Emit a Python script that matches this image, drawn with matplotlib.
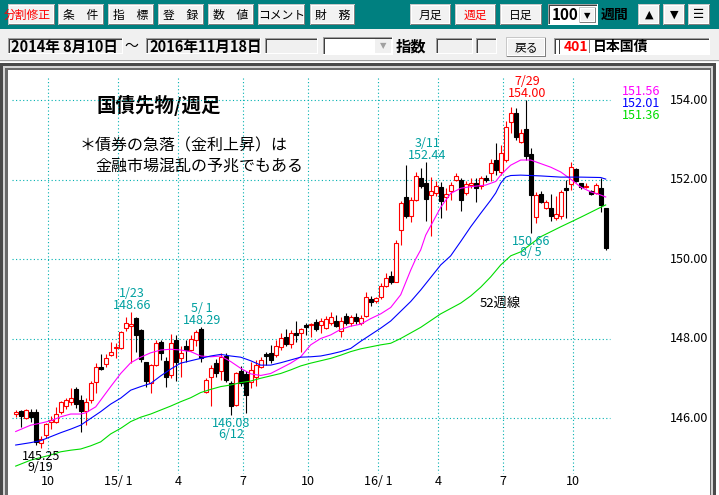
import numpy as np
import pandas as pd
import matplotlib
matplotlib.use('Agg')
import matplotlib.pyplot as plt
import matplotlib.patches as patch
from matplotlib.transforms import blended_transform_factory as blend, Bbox

plt.rcParams['font.family'] = ['Noto Sans CJK JP', 'DejaVu Sans']

# 国債先物 週足 (2014/8 - 2016/11)
opens = [146.10, 146.18, 146.01, 146.16, 146.15, 145.37, 145.56, 145.90, 145.91, 146.16,
         146.31, 146.39, 146.73, 146.45, 146.18, 146.45, 146.90, 147.29, 147.36, 147.58,
         147.75, 147.77, 148.26, 148.31, 148.51, 148.21, 147.40, 146.88, 147.33, 147.90,
         147.44, 147.08, 147.97, 147.52, 147.81, 147.71, 147.96, 148.24, 146.66, 147.02,
         147.38, 147.17, 147.55, 146.88, 146.33, 147.18, 147.11, 146.91, 147.02, 147.28,
         147.60, 147.63, 147.58, 147.78, 148.05, 147.87, 148.14, 148.13, 148.34, 148.33,
         148.42, 148.35, 148.26, 148.38, 148.45, 148.18, 148.57, 148.38, 148.55, 148.38,
         148.56, 149.00, 148.94, 149.04, 149.32, 149.57, 149.43, 150.74, 151.57, 151.08,
         151.48, 152.05, 151.90, 151.61, 151.65, 151.82, 151.55, 151.70, 152.00, 151.99,
         151.65, 151.86, 151.90, 151.84, 152.03, 152.17, 152.49, 152.20, 152.49, 153.45,
         153.67, 152.95, 153.27, 152.65, 151.05, 151.63, 151.29, 151.28, 151.02, 151.07,
         151.78, 151.88, 152.26, 151.91, 151.80, 151.71, 151.65, 151.78, 151.28]
highs = [146.21, 146.20, 146.23, 146.22, 146.23, 145.55, 145.88, 146.06, 146.28, 146.44,
         146.50, 146.75, 146.78, 146.58, 146.50, 146.93, 147.38, 147.60, 147.61, 147.92,
         147.89, 148.20, 148.55, 148.66, 148.55, 148.24, 147.42, 147.37, 147.96, 147.95,
         147.54, 148.11, 148.09, 147.80, 147.96, 148.09, 148.22, 148.29, 147.00, 147.33,
         147.48, 147.63, 147.64, 146.92, 147.16, 147.30, 147.17, 147.40, 147.45, 147.54,
         147.67, 147.84, 147.96, 148.13, 148.24, 148.21, 148.43, 148.26, 148.38, 148.40,
         148.50, 148.52, 148.57, 148.67, 148.58, 148.55, 148.64, 148.60, 148.65, 148.58,
         149.16, 149.08, 149.05, 149.40, 149.65, 149.70, 150.48, 151.45, 152.36, 151.57,
         152.20, 152.30, 152.44, 152.06, 151.97, 151.94, 151.78, 151.94, 152.17, 152.03,
         151.97, 152.03, 152.03, 152.09, 152.12, 152.51, 152.91, 152.86, 153.46, 153.83,
         153.79, 153.27, 154.00, 152.80, 151.68, 151.70, 151.49, 151.63, 151.59, 151.74,
         152.00, 152.45, 152.29, 151.92, 151.90, 151.74, 151.92, 152.03, 151.28]
lows = [146.03, 145.78, 145.97, 145.89, 145.32, 145.25, 145.50, 145.72, 145.87, 146.09,
        146.23, 146.33, 146.25, 145.66, 145.82, 146.37, 146.62, 147.22, 147.29, 147.55,
        147.52, 147.74, 148.20, 147.38, 147.67, 147.40, 146.79, 146.62, 147.31, 147.45,
        146.78, 147.00, 146.94, 147.04, 147.42, 147.68, 147.80, 147.42, 146.62, 146.29,
        147.04, 146.96, 146.90, 146.08, 146.30, 146.80, 146.12, 146.75, 146.80, 147.25,
        147.33, 147.38, 147.53, 147.70, 147.80, 147.76, 147.92, 147.65, 148.09, 148.05,
        148.18, 148.15, 148.24, 148.34, 148.28, 148.05, 148.34, 148.32, 148.36, 148.35,
        148.53, 148.82, 148.90, 149.00, 149.30, 149.37, 149.42, 150.35, 151.03, 150.92,
        151.46, 151.78, 150.95, 150.58, 151.59, 151.02, 151.23, 151.48, 151.95, 151.22,
        151.60, 151.78, 151.44, 151.76, 151.93, 151.97, 152.11, 152.12, 152.44, 153.16,
        153.00, 152.93, 152.50, 150.66, 150.90, 151.40, 151.27, 150.96, 150.98, 151.00,
        151.03, 151.74, 151.94, 151.77, 151.78, 151.60, 151.63, 151.18, 150.23]
closes = [146.16, 146.04, 146.19, 146.02, 145.40, 145.47, 145.85, 145.95, 146.09, 146.39,
          146.45, 146.50, 146.35, 146.18, 146.41, 146.87, 147.29, 147.23, 147.52, 147.65,
          147.77, 148.17, 148.38, 148.36, 148.09, 147.48, 146.92, 147.33, 147.88, 147.63,
          147.04, 147.88, 147.40, 147.63, 147.70, 148.00, 148.17, 147.50, 146.95, 147.25,
          147.13, 147.54, 146.95, 146.29, 147.14, 146.87, 146.58, 147.21, 147.33, 147.46,
          147.56, 147.46, 147.81, 148.02, 147.85, 148.13, 148.08, 148.23, 148.30, 148.37,
          148.25, 148.43, 148.48, 148.55, 148.32, 148.43, 148.38, 148.53, 148.45, 148.51,
          149.05, 148.92, 149.02, 149.32, 149.53, 149.43, 150.39, 151.41, 151.07, 151.48,
          152.09, 151.84, 151.50, 151.71, 151.84, 151.47, 151.63, 151.86, 152.09, 151.48,
          151.89, 151.92, 151.78, 152.03, 151.99, 152.42, 152.24, 152.66, 153.33, 153.67,
          153.08, 153.16, 152.58, 151.61, 151.62, 151.43, 151.44, 151.07, 151.12, 151.68,
          151.73, 152.32, 151.96, 151.82, 151.84, 151.63, 151.86, 151.36, 150.27]

# moving averages (bar index, value)
ma13_idx = [0, 3, 5, 7, 9, 11, 13, 14, 16, 17, 19, 21, 23, 25, 27, 29, 31, 33, 35, 37,
            39, 41, 43, 45, 47, 49, 51, 53, 55, 57, 59, 61, 63, 65, 67, 69, 71, 73, 75, 77,
            79, 80, 81, 82, 85, 87, 89, 91, 94, 96, 97, 98, 99, 101, 103, 105, 107, 109, 111,
            113, 115, 117, 118]
ma13 = [145.66, 145.82, 145.87, 145.93, 146.03, 146.10, 146.10, 146.13, 146.28, 146.45,
        146.79, 147.12, 147.39, 147.53, 147.64, 147.71, 147.73, 147.71, 147.67, 147.56,
        147.54, 147.56, 147.42, 147.25, 147.11, 147.07, 147.12, 147.25, 147.38, 147.54,
        147.84, 148.00, 148.09, 148.23, 148.31, 148.36, 148.50, 148.62, 148.78, 149.10,
        149.72, 150.00, 150.23, 150.60, 151.30, 151.65, 151.78, 151.82, 151.86, 151.95,
        152.11, 152.24, 152.36, 152.49, 152.49, 152.40, 152.31, 152.19, 152.01, 151.81,
        151.69, 151.61, 151.56]
ma26_idx = [0, 3, 5, 7, 9, 11, 13, 15, 17, 19, 21, 23, 25, 27, 29, 31, 33, 35, 37, 39,
            41, 43, 45, 47, 49, 51, 53, 55, 57, 59, 61, 63, 65, 67, 69, 73, 75, 79, 81, 85,
            87, 89, 91, 93, 95, 96, 97, 98, 99, 101, 105, 109, 113, 117, 118]
ma26 = [145.32, 145.38, 145.43, 145.53, 145.63, 145.72, 145.82, 145.99, 146.16, 146.35,
        146.50, 146.70, 146.79, 146.87, 147.06, 147.23, 147.38, 147.44, 147.50, 147.56,
        147.60, 147.56, 147.53, 147.44, 147.33, 147.33, 147.39, 147.46, 147.53, 147.54,
        147.56, 147.61, 147.67, 147.75, 147.93, 148.26, 148.44, 148.93, 149.22, 149.85,
        150.08, 150.44, 150.81, 151.15, 151.48, 151.66, 151.91, 152.06, 152.10, 152.11,
        152.09, 152.06, 152.06, 152.05, 152.01]
ma52_idx = [0, 3, 7, 9, 11, 13, 15, 17, 19, 21, 23, 25, 27, 29, 31, 33, 35, 37, 39, 41,
            43, 45, 47, 49, 51, 53, 55, 57, 59, 61, 63, 65, 67, 69, 73, 75, 77, 81, 85, 89,
            91, 93, 95, 97, 99, 101, 105, 109, 113, 117, 118]
ma52 = [144.79, 144.94, 145.07, 145.15, 145.19, 145.22, 145.30, 145.40, 145.60, 145.74,
        145.91, 146.02, 146.10, 146.20, 146.30, 146.41, 146.51, 146.64, 146.72, 146.79,
        146.83, 146.89, 146.93, 147.00, 147.06, 147.12, 147.21, 147.31, 147.38, 147.44,
        147.50, 147.58, 147.67, 147.74, 147.84, 147.88, 148.00, 148.28, 148.62, 148.89,
        149.07, 149.29, 149.55, 149.85, 150.08, 150.18, 150.56, 150.81, 151.05, 151.30,
        151.36]

price_ticks = [146, 148, 150, 152, 154]
hi_marks = [('2016-07-29', 'red'), ('2016-03-11', '#00a0a0'),
            ('2015-01-23', '#00a0a0'), ('2015-05-01', '#00a0a0')]
lo_marks = [('2016-08-05', '#00a0a0'), ('2015-06-12', '#00a0a0'), ('2014-09-19', 'black')]

weeks = list(pd.date_range('2014-08-15', periods=len(closes), freq='W-FRI'))
# new year weeks end on 12/30
weeks = [d - pd.Timedelta(days=d.day + 1) if (d.month == 1 and d.day <= 3) else d for d in weeks]

W, H = 719, 495
fig = plt.figure(figsize=(W / 100, H / 100), dpi=100)
ui = fig.add_axes([0, 0, 1, 1])
ui.set_xlim(0, W)
ui.set_ylim(H, 0)
ui.axis('off')


def box(x0, y0, x1, y1, fc, z=1):
    ui.add_patch(patch.Rectangle((x0, y0), x1 - x0, y1 - y0, facecolor=fc, edgecolor='none', zorder=z))


def button(x0, y0, x1, y1, text='', color='black', size=8.5, weight='normal', family=None):
    box(x0, y0, x1, y1, '#c8c8c8')
    box(x0 + 1, y0 + 1, x1, y1, '#808080')
    box(x0 + 1, y0 + 1, x1 - 1, y1 - 1, 'white')
    box(x0 + 2, y0 + 2, x1 - 2, y1 - 2, '#f2f2f2')
    if text:
        kw = {} if family is None else {'family': family}
        ui.text((x0 + x1) / 2, (y0 + y1) / 2 + 0.5, text, ha='center', va='center',
                fontsize=size, color=color, weight=weight, zorder=5, **kw)


def field(x0, y0, x1, y1, fc='#f0f0f0'):
    box(x0, y0, x1, y1, 'white')
    box(x0, y0, x1 - 1, y1 - 1, '#a0a0a0')
    box(x0 + 1, y0 + 1, x1 - 1, y1 - 1, '#404040')
    box(x0 + 2, y0 + 2, x1 - 1, y1 - 1, fc)


# toolbar
box(0, 0, W, 29, '#008080')
box(0, 29, W, 62, '#f0f0f0')
box(0, 60, W, 61, '#a0a0a0')
button(8, 4, 55, 25)
t = ui.text(51, 15, '分割修正', ha='right', va='center', fontsize=8.5, color='red', zorder=5)
t.set_clip_box(Bbox(ui.transData.transform([[10, 25], [53, 4]])))
for x0, x1, s in [(58, 104, '条　件'), (108, 154, '指　標'), (158, 204, '登　録'),
                  (208, 254, '数　値'), (258, 305, 'コメント'), (310, 355, '財　務'),
                  (410, 451, '月足'), (500, 542, '日足')]:
    button(x0, 4, x1, 25, s)
button(455, 4, 496, 25, '週足', color='red')
field(548, 4, 598, 25, fc='white')
ui.text(552, 15, '100', ha='left', va='center', fontsize=11, weight='bold', zorder=5)
button(579, 7, 596, 23, '▼', size=6, family='DejaVu Sans')
ui.text(601, 15, '週間', ha='left', va='center', fontsize=10, weight='bold', zorder=5)
button(638, 4, 660, 25, '▲', size=8, family='DejaVu Sans')
button(663, 4, 685, 25, '▼', size=8, family='DejaVu Sans')
button(688, 4, 710, 25, '☰', size=9, family='DejaVu Sans')

field(8, 38, 123, 54)
ui.text(11, 46.5, '2014年 8月10日', ha='left', va='center', fontsize=10.5, weight='bold', zorder=5)
ui.text(131, 46, '～', ha='center', va='center', fontsize=10, zorder=5)
field(146, 38, 261, 54)
ui.text(149, 46.5, '2016年11月18日', ha='left', va='center', fontsize=10.5, weight='bold', zorder=5)
field(265, 38, 318, 54)
field(323, 37, 393, 55, fc='white')
box(375, 39, 391, 53, '#f0f0f0')
ui.text(383, 46, '▼', ha='center', va='center', fontsize=6, color='#a0a0a0', family='DejaVu Sans', zorder=5)
ui.text(396, 46.5, '指数', ha='left', va='center', fontsize=11, weight='bold', zorder=5)
field(436, 38, 473, 54)
field(476, 38, 497, 54)
button(506, 37, 546, 57, '戻る')
field(554, 38, 710, 55, fc='white')
ui.text(558, 47, '|', ha='left', va='center', fontsize=9, zorder=5)
ui.text(564, 47, '401', ha='left', va='center', fontsize=10, weight='bold', color='red', zorder=5)
box(589, 40, 590, 53, '#808080', z=4)
ui.text(593, 47, '日本国債', ha='left', va='center', fontsize=10, weight='bold', zorder=5)

# chart panel frame
box(0, 63, 716, H, '#4a4a4a')
box(3, 66, 713, H, '#d4d4d4')
box(5, 68, 711, H, '#6a6a6a')
box(8, 70, 710, H, 'white')

# chart axes: bar i sits at pixel 15.7 + 5 i, 154.00 at pixel row 100, 39.75 px per yen
bar0, bar_px = 15.7, 5.0
p_ref, y_ref, yen_px = 154.0, 100.0, 39.75
L, R, T = 8, 710, 70
ax = fig.add_axes([L / W, 0, (R - L) / W, (H - T) / H])
ax.set_xlim((L - bar0) / bar_px, (R - bar0) / bar_px)
ax.set_ylim(p_ref - (H - y_ref) / yen_px, p_ref + (y_ref - T) / yen_px)
ax.axis('off')

grid_c = '#00b0b0'
dots = (0, (1, 2.2))
ax.hlines(price_ticks, 12, 610, colors=grid_c, linestyles=dots, lw=0.8,
          transform=blend(ui.transData, ax.transData))
tick_idx = [i for i in range(1, len(weeks))
            if weeks[i].month != weeks[i - 1].month and weeks[i].month in (1, 4, 7, 10)]
tick_lab = [f'{weeks[i].year % 100}/ 1' if weeks[i].month == 1 else str(weeks[i].month)
            for i in tick_idx]
tick_x = [i - 0.5 for i in tick_idx]
ax.vlines(tick_x, 78, 473, colors=grid_c, linestyles=dots, lw=0.8,
          transform=blend(ax.transData, ui.transData))
for x, s in zip(tick_x, tick_lab):
    ax.text(x, 481.5, s, ha='center', va='center', fontsize=9,
            transform=blend(ax.transData, ui.transData))
for p in price_ticks:
    ax.text(689.5, p, f'{p:.2f}', ha='center', va='center', fontsize=9,
            transform=blend(ui.transData, ax.transData))

# candles
o, h, l, c = (np.array(v) for v in (opens, highs, lows, closes))
idx = np.arange(len(c))
up = c >= o
body = np.maximum(np.abs(c - o), 0.025)
bottom = np.minimum(o, c)
ax.vlines(idx[up], l[up], h[up], colors='red', lw=0.8, zorder=2)
ax.vlines(idx[~up], l[~up], h[~up], colors='black', lw=0.8, zorder=2)
ax.bar(idx[up], body[up], 0.72, bottom=bottom[up], facecolor='white', edgecolor='red', lw=0.8, zorder=3)
ax.bar(idx[~up], body[~up], 0.72, bottom=bottom[~up], facecolor='black', edgecolor='black', lw=0.8, zorder=3)

# moving averages
ax.plot(ma13_idx, ma13, color='#ff00ff', lw=0.8, zorder=4)
ax.plot(ma26_idx, ma26, color='#0000ff', lw=0.8, zorder=4)
ax.plot(ma52_idx, ma52, color='#00dd00', lw=0.8, zorder=4)
for k, (v, col) in enumerate([(ma13[-1], '#ff00ff'), (ma26[-1], '#0000ff'), (ma52[-1], '#00dd00')]):
    ui.text(641.5, 91.7 + 11.7 * k, f'{v:.2f}', ha='center', va='center', fontsize=9,
            color=col, zorder=5)

# high / low marks
pt = 0.72
for d, col in hi_marks:
    i = weeks.index(pd.Timestamp(d))
    ax.annotate(f'{highs[i]:.2f}', (i, highs[i]), xytext=(1, 6.5 * pt), textcoords='offset points',
                ha='center', va='center', fontsize=9, color=col, zorder=6)
    ax.annotate(f'{weeks[i].month}/{weeks[i].day:2d}', (i, highs[i]), xytext=(1, 18.5 * pt),
                textcoords='offset points', ha='center', va='center', fontsize=9, color=col, zorder=6)
for d, col in lo_marks:
    i = weeks.index(pd.Timestamp(d))
    ax.annotate(f'{lows[i]:.2f}', (i, lows[i]), xytext=(0, -8.5 * pt), textcoords='offset points',
                ha='center', va='center', fontsize=9, color=col, zorder=6)
    ax.annotate(f'{weeks[i].month}/{weeks[i].day:2d}', (i, lows[i]), xytext=(0, -20 * pt),
                textcoords='offset points', ha='center', va='center', fontsize=9, color=col, zorder=6)

# captions
ui.text(96, 105, '国債先物/週足', ha='left', va='center', fontsize=14, weight='bold', zorder=5)
ui.text(80, 146, '＊債券の急落（金利上昇）は', ha='left', va='center', fontsize=11.5, zorder=5)
ui.text(95, 166, '金融市場混乱の予兆でもある', ha='left', va='center', fontsize=11.5, zorder=5)
ui.text(480, 303, '52週線', ha='left', va='center', fontsize=9.5, zorder=5)
ax.set_zorder(2)

fig.savefig('out.png', dpi=100)
